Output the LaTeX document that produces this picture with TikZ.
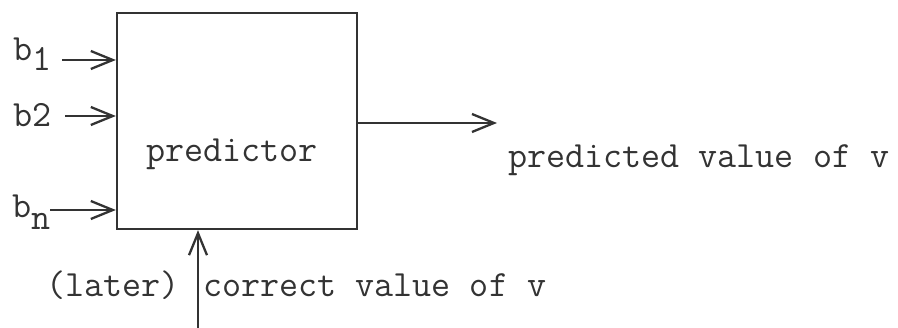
\documentclass[tikz,border=0pt]{standalone}
\usetikzlibrary{arrows.meta}
\begin{document}
\begin{tikzpicture}[x=1pt,y=-1pt,
  ink/.style={draw=black!80, line width=2.3pt},
  tt/.style={text=black!80, font=\fontsize{37}{41}\selectfont\ttfamily, inner sep=0pt, anchor=base west},
  arr/.style={ink, -{Straight Barb[length=22pt,width=18pt,line width=2.3pt]}}]
\useasboundingbox (0,0) rectangle (898,328);
\node[ink, minimum width=240pt, minimum height=216pt, inner sep=0pt] (pred) at (237,121) {};
\node[tt, anchor=base] (ptxt) at (232,162) {predictor};
% inputs
\coordinate (s1) at (62,60);
\coordinate (s2) at (65,116);
\coordinate (sn) at (50,210);
\draw[arr] (s1) -- (s1 -| pred.west);
\draw[arr] (s2) -- (s2 -| pred.west);
\draw[arr] (sn) -- (sn -| pred.west);
\node[tt] (b1) at (13,61) {b\raisebox{-10pt}{1}};
\node[tt] (b2) at (13,127) {b2};
\node[tt] (bn) at (12,218) {b\raisebox{-12pt}{n}};
% output
\coordinate (o) at (497,123);
\draw[arr] (pred.east |- o) -- (o);
\node[tt] (otxt) at (508,168) {predicted value of v};
% bottom
\coordinate (c) at (198,328);
\draw[arr] (c) -- (c |- pred.south);
\node[tt, anchor=base east] (later) at (180,297) {(later)};
\node[tt] (ctxt) at (203,297) {correct value of v};
\end{tikzpicture}
\end{document}
